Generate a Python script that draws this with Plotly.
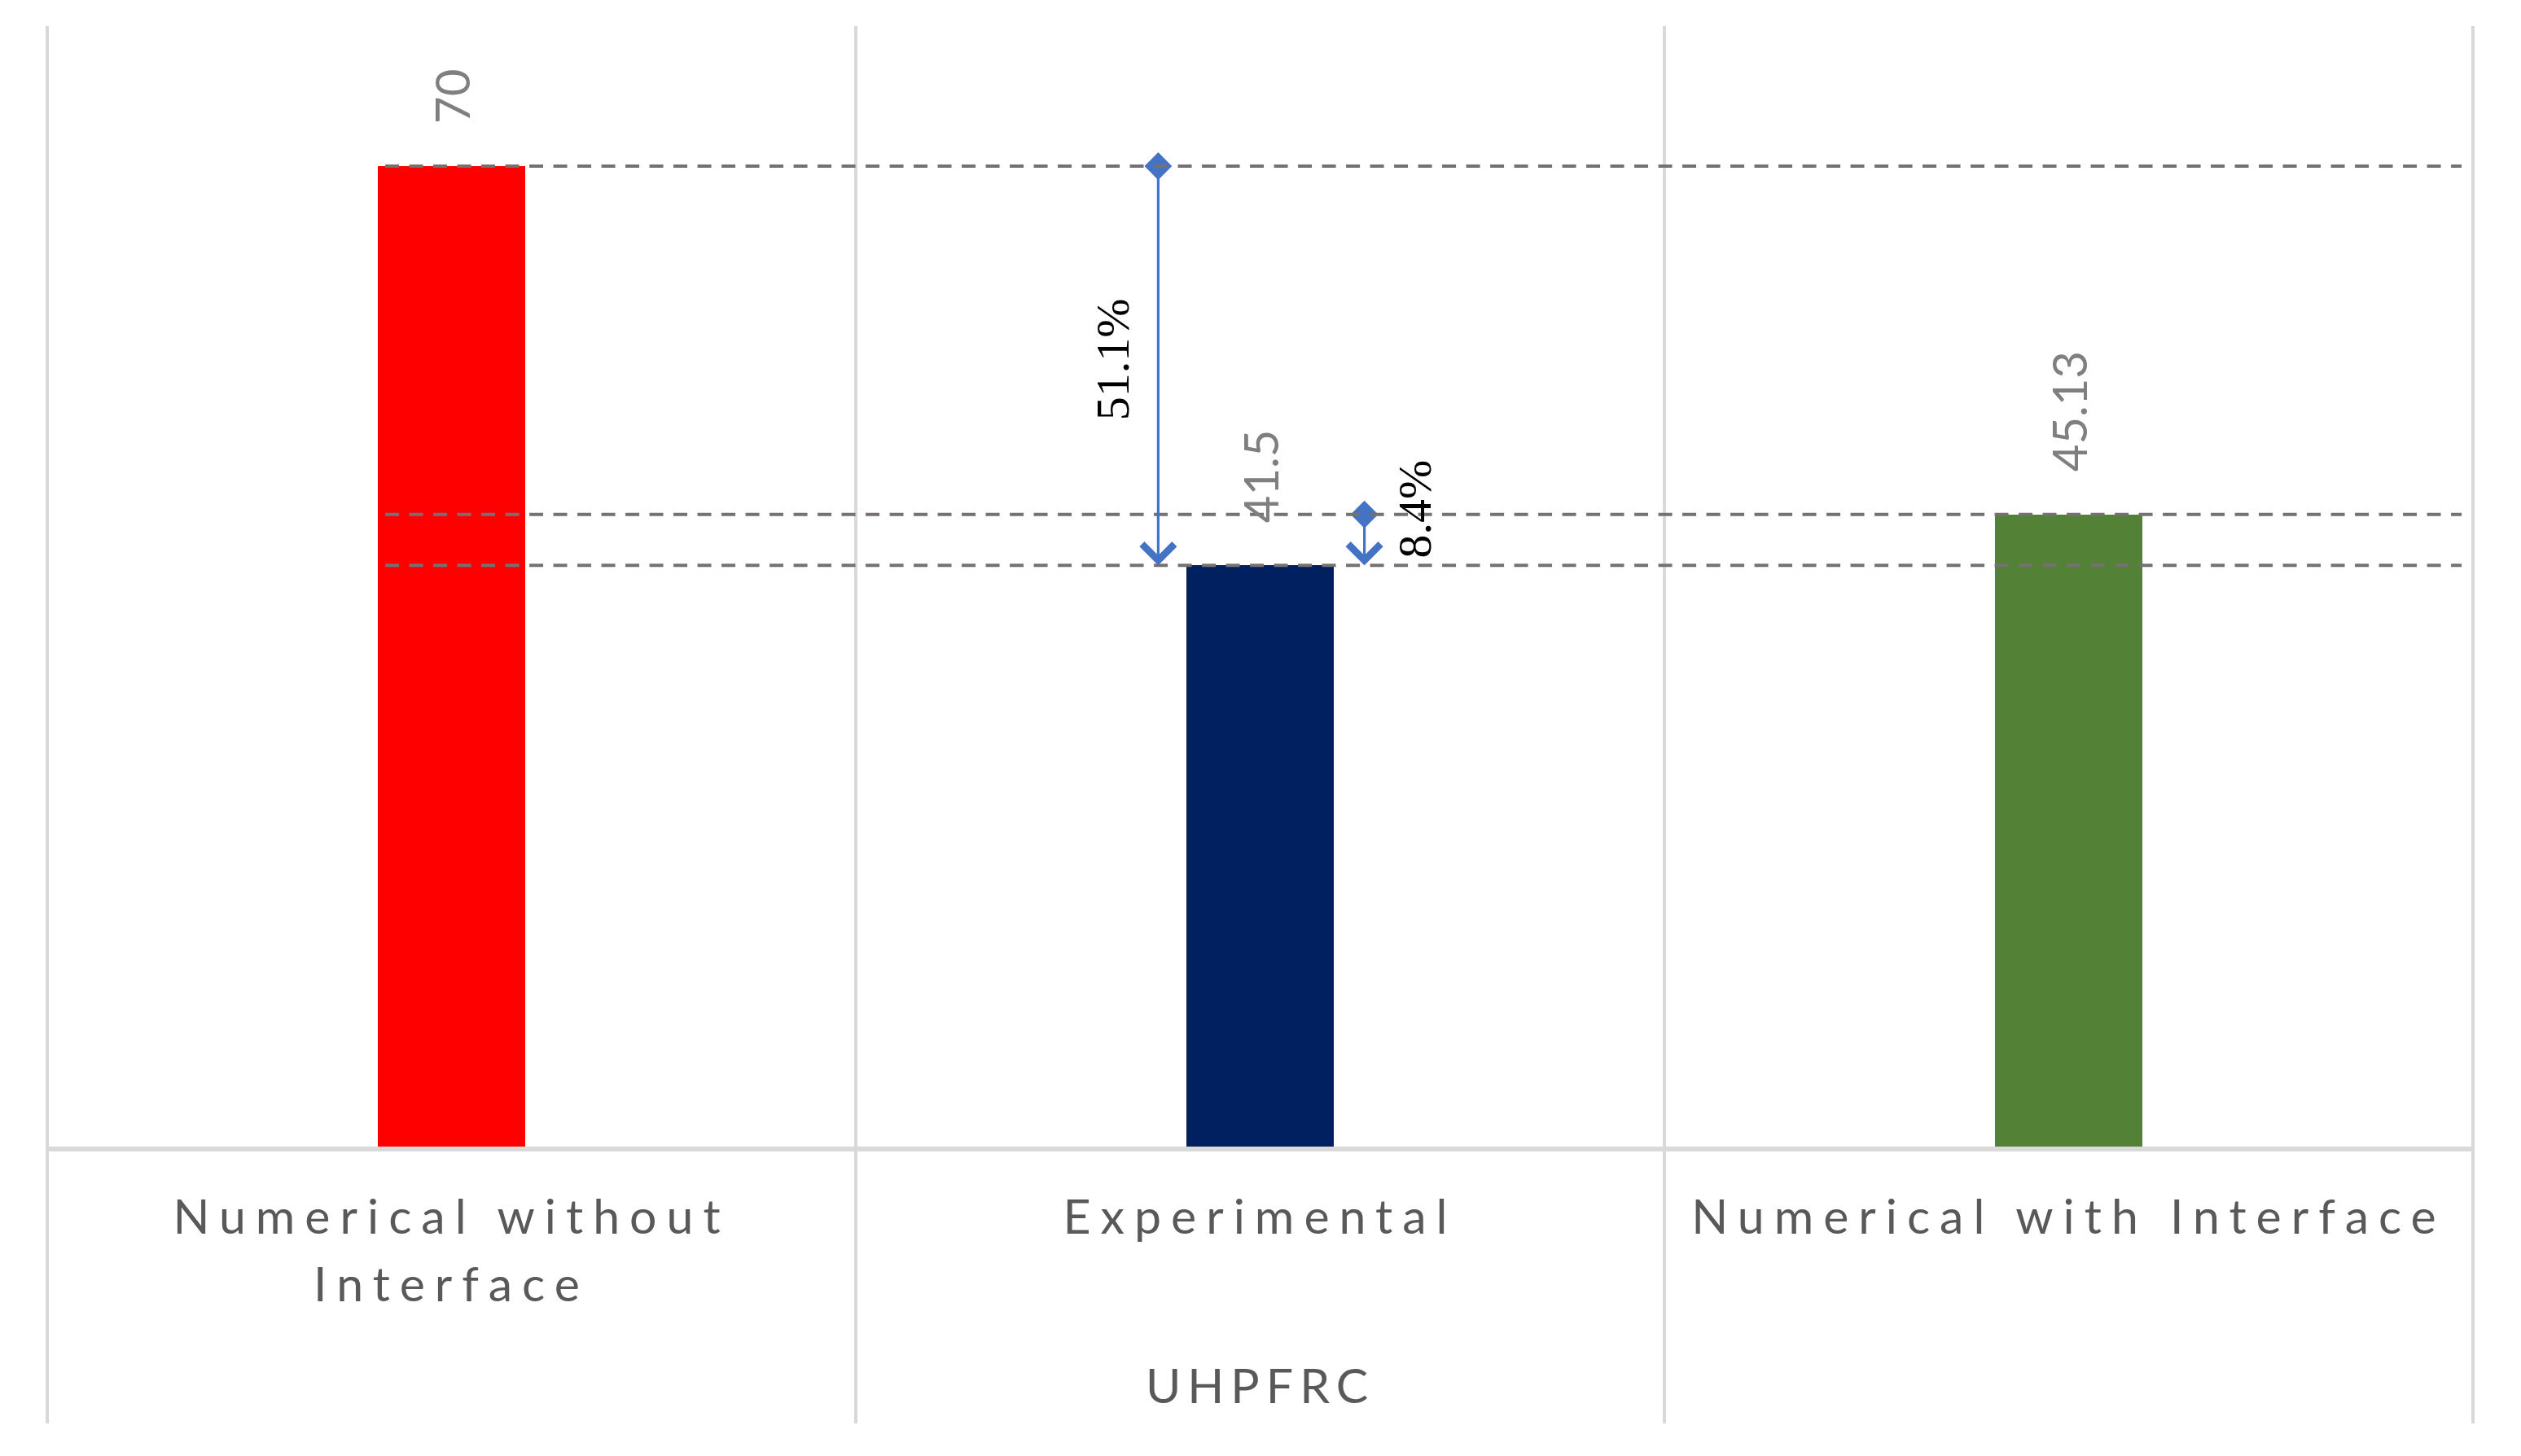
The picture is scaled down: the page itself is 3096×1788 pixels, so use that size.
import plotly.graph_objects as go

# ---------------- data ----------------
categories = ["Numerical without<br>Interface", "Experimental", "Numerical with Interface"]
values = [70, 41.5, 45.13]
value_labels = ["70", "41.5", "45.13"]
axis_title = "UHPFRC"
pct_labels = ["51.1%", "8.4%"]

# ---------------- styles ----------------
bar_colors = ["#FF0000", "#002060", "#538135"]
arrow_color = "#4472C4"
grid_color = "#D9D9D9"
dash_color = "#767171"
label_gray = "#7F7F7F"
axis_text = "#595959"

W, H = 3096, 1788
ML, MR, MT, MB = 58, 59, 32, 380
Y_MAX = 80

fig = go.Figure()

fig.add_trace(go.Bar(
    x=list(range(len(categories))),
    y=values,
    width=0.183,
    marker=dict(color=bar_colors, line=dict(width=0)),
    hoverinfo="skip",
    showlegend=False,
))

shapes = []
plot_h = H - MT - MB
y_bottom = -(1748 - (H - MB)) / plot_h
n = len(categories)
for i in range(n + 1):
    shapes.append(dict(type="line", xref="paper", yref="paper",
                       x0=i / n, x1=i / n, y0=y_bottom, y1=1,
                       line=dict(color=grid_color, width=4), layer="below"))

for v in values:
    shapes.append(dict(type="line", xref="x", yref="y",
                       x0=-0.082, x1=2.486, y0=v, y1=v,
                       line=dict(color=dash_color, width=4, dash="17px,12.5px"),
                       layer="above"))

annotations = []
for i, (v, t) in enumerate(zip(values, value_labels)):
    annotations.append(dict(x=i, y=v, xref="x", yref="y", text=t, showarrow=False,
                            textangle=-90, xanchor="center", yanchor="bottom", yshift=50,
                            font=dict(family="Lato", size=58, color=label_gray)))

arrow_x = [0.874, 1.129]
arrow_from = [values[0], values[2]]
arrow_to = [values[1], values[1]]
for ax_, y0, y1 in zip(arrow_x, arrow_from, arrow_to):
    annotations.append(dict(x=ax_, y=y1, ax=ax_, ay=y0, xref="x", yref="y",
                            axref="x", ayref="y", text="", showarrow=True,
                            arrowhead=4, arrowsize=2.4, arrowwidth=3.2,
                            arrowcolor=arrow_color, standoff=0, startstandoff=0))

fig.add_trace(go.Scatter(
    x=arrow_x, y=arrow_from, mode="markers",
    marker=dict(symbol="diamond", size=26, color=arrow_color, line=dict(width=0)),
    hoverinfo="skip", showlegend=False,
))

pct_x = [0.818, 1.191]
pct_y = [56.2, 45.5]
for x, y, t in zip(pct_x, pct_y, pct_labels):
    annotations.append(dict(x=x, y=y, xref="x", yref="y", text=t, showarrow=False,
                            textangle=-90, xanchor="center", yanchor="middle",
                            font=dict(family="Liberation Serif", size=58, color="black")))

tick_text = ['<span style="font-size:59px">%s</span>' % c.replace("<br>", '</span><br><span style="font-size:59px">')
             for c in categories]

fig.update_layout(
    width=W, height=H,
    margin=dict(l=ML, r=MR, t=MT, b=MB, pad=0),
    paper_bgcolor="white", plot_bgcolor="white",
    shapes=shapes, annotations=annotations,
    bargap=0,
    xaxis=dict(
        tickmode="array", tickvals=list(range(n)), ticktext=tick_text,
        range=[-0.5, n - 0.5], showgrid=False, zeroline=False,
        showline=True, linecolor=grid_color, linewidth=6, ticks="",
        tickfont=dict(family="Lato", size=64, color=axis_text),
        ticklabelstandoff=24, automargin=False, fixedrange=True,
        title=dict(text=axis_title, font=dict(family="Lato", size=59, color=axis_text),
                   standoff=74),
    ),
    yaxis=dict(range=[0, Y_MAX], visible=False, showgrid=False, zeroline=False,
               fixedrange=True),
)

js = ("document.body.style.margin='0';"
      "var s=document.createElement('style');"
      "s.textContent='.xtick text{letter-spacing:12px}.xtitle{letter-spacing:8px}';"
      "document.head.appendChild(s);")

fig.write_html("out.html", post_script=js, config={"displayModeBar": False})
